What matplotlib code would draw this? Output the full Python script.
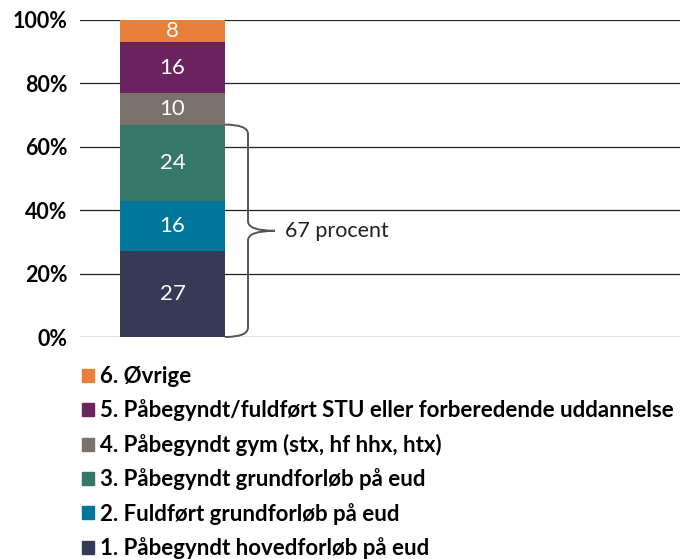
import numpy as np
import matplotlib
matplotlib.use("Agg")
import matplotlib.pyplot as plt
from matplotlib.path import Path
from matplotlib.patches import PathPatch, Patch

plt.rcParams['font.family'] = ['Lato', 'DejaVu Sans']

# data
labels = ["1. Påbegyndt hovedforløb på eud",
          "2. Fuldført grundforløb på eud",
          "3. Påbegyndt grundforløb på eud",
          "4. Påbegyndt gym (stx, hf hhx, htx)",
          "5. Påbegyndt/fuldført STU eller forberedende uddannelse",
          "6. Øvrige"]
values = [27, 16, 24, 10, 16, 8]
colors = ["#363A56", "#00779A", "#35786A", "#7A716C", "#6B2360", "#E8803A"]
brace_total = 67
brace_text = "67 procent"

fig = plt.figure(figsize=(6.8, 5.59), dpi=100)
ax = fig.add_axes([80 / 680, 1 - 337 / 559, 600 / 680, 317 / 559])

bottom = 0
for v, c, lab in zip(values, colors, labels):
    ax.bar(0, v, width=1.0, bottom=bottom, color=c, label=lab, zorder=3)
    top = min(bottom + v, 100)
    ax.text(0, (bottom + top) / 2, str(v), ha='center', va='center',
            color='white', fontsize=16, zorder=4)
    bottom += v

ax.set_xlim(-0.881, -0.881 + 600 / 105)
ax.set_ylim(0, 100)
ax.set_yticks(np.arange(0, 101, 20))
ax.set_yticklabels([f"{t}%" for t in range(0, 101, 20)], fontsize=15.5, fontweight='bold')
ax.set_xticks([])
ax.tick_params(axis='y', length=0, pad=9)
ax.grid(axis='y', color='#222222', linewidth=0.9, zorder=0)
for s in ax.spines.values():
    s.set_visible(False)

# curly brace next to the bar
x0 = 0.5
xv = 0.5 + 23 / 105
xt = 0.5 + 50 / 105
ym = brace_total / 2
r = 3
verts = [(x0, brace_total), (xv, brace_total), (xv, brace_total - r),
         (xv, ym + r), (xv, ym), (xt, ym),
         (xt, ym), (xv, ym), (xv, ym - r),
         (xv, r), (xv, 0), (x0, 0)]
codes = [Path.MOVETO, Path.CURVE3, Path.CURVE3,
         Path.LINETO, Path.CURVE3, Path.CURVE3,
         Path.MOVETO, Path.CURVE3, Path.CURVE3,
         Path.LINETO, Path.CURVE3, Path.CURVE3]
ax.add_patch(PathPatch(Path(verts, codes), facecolor='none', edgecolor='#555555',
                       linewidth=1.4, clip_on=False, zorder=5))
ax.text(0.5 + 60 / 105, ym, brace_text, ha='left', va='center', fontsize=15.5, color='#222222')

handles = [Patch(color=c) for c in colors][::-1]
fig.legend(handles, labels[::-1], loc='upper left', bbox_to_anchor=(82 / 680, 1 - 366 / 559),
           frameon=False, prop={'weight': 'bold', 'size': 16},
           handlelength=0.52, handleheight=0.52, handletextpad=0.3, labelspacing=0.56,
           borderpad=0, borderaxespad=0)

fig.savefig("out.png", dpi=100)
